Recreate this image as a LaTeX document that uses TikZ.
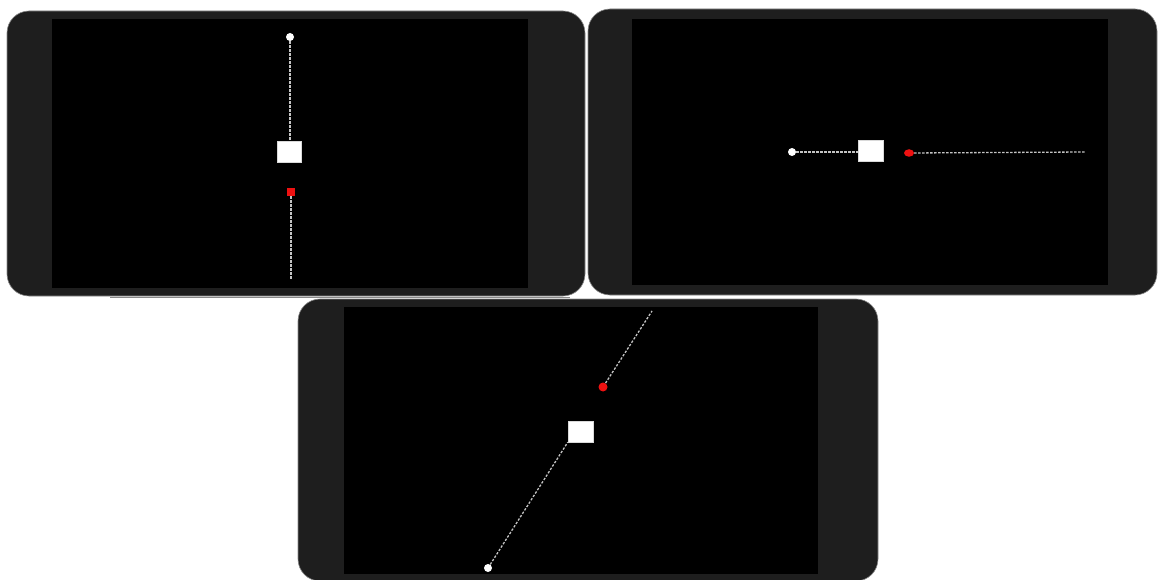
\documentclass[tikz,border=0pt]{standalone}
\usetikzlibrary{shapes.geometric}
\definecolor{bezel}{HTML}{1E1E1E}
\definecolor{edgegrey}{HTML}{8A8A8A}
\definecolor{dashgrey}{HTML}{C4C4C4}
\definecolor{reddot}{HTML}{EE1111}
\tikzset{
  phone/.style={fill=bezel, draw=edgegrey, line width=0.6pt, rounded corners=22pt},
  screen/.style={fill=black},
  whitedot/.style={circle, fill=white, inner sep=0pt, minimum size=8pt},
  block/.style={rectangle, fill=white, draw=white!85!black, line width=0.5pt, inner sep=0pt, minimum width=24pt, minimum height=21pt},
  redsq/.style={rectangle, fill=reddot, inner sep=0pt, minimum size=8pt},
  redell/.style={ellipse, fill=reddot, inner sep=0pt, minimum width=10pt, minimum height=7.5pt},
  redcirc/.style={circle, fill=reddot, inner sep=0pt, minimum size=9pt},
  track/.style={draw=dashgrey, line width=1.3pt, dash pattern=on 2.4pt off 1.6pt},
}
\begin{document}
\begin{tikzpicture}[x=1pt, y=-1pt]
\useasboundingbox (0,0) rectangle (1158,580);
\fill[white] (0,0) rectangle (1158,580);

% phone 1
\draw[phone] (7,11) rectangle (585,296);
\fill[screen] (52,19) rectangle (528,288);
\draw[edgegrey, line width=1pt] (110,297) -- (570,297);
% phone 2
\draw[phone] (588,9) rectangle (1157,295);
\fill[screen] (632,19) rectangle (1108,285);
% phone 3
\draw[phone] (298,299) rectangle (878,581);
\fill[screen] (344,307) rectangle (818,574);

% phone 1 content
\node[whitedot] (d1) at (290,37) {};
\node[block] (s1) at (289,151.5) {};
\node[redsq] (r1) at (291,192) {};
\coordinate (e1) at (291,280);
\draw[track] (d1) -- (d1 |- s1.north);
\draw[track] (r1) -- (e1);

% phone 2 content
\node[whitedot] (d2) at (792,152) {};
\node[block, minimum width=25pt] (s2) at (870.5,150.5) {};
\node[redell] (r2) at (909,153) {};
\coordinate (e2) at (1085,152);
\draw[track] (d2) -- (s2.west |- d2);
\draw[track] (r2) -- (e2);

% phone 3 content
\node[whitedot] (d3) at (488,568) {};
\node[block, minimum width=25pt] (s3) at (580.5,431.5) {};
\node[redcirc] (r3) at (603,387) {};
\coordinate (e3) at (652,311);
\draw[track] (d3) -- (s3.south west);
\draw[track] (r3) -- (e3);
\end{tikzpicture}
\end{document}
